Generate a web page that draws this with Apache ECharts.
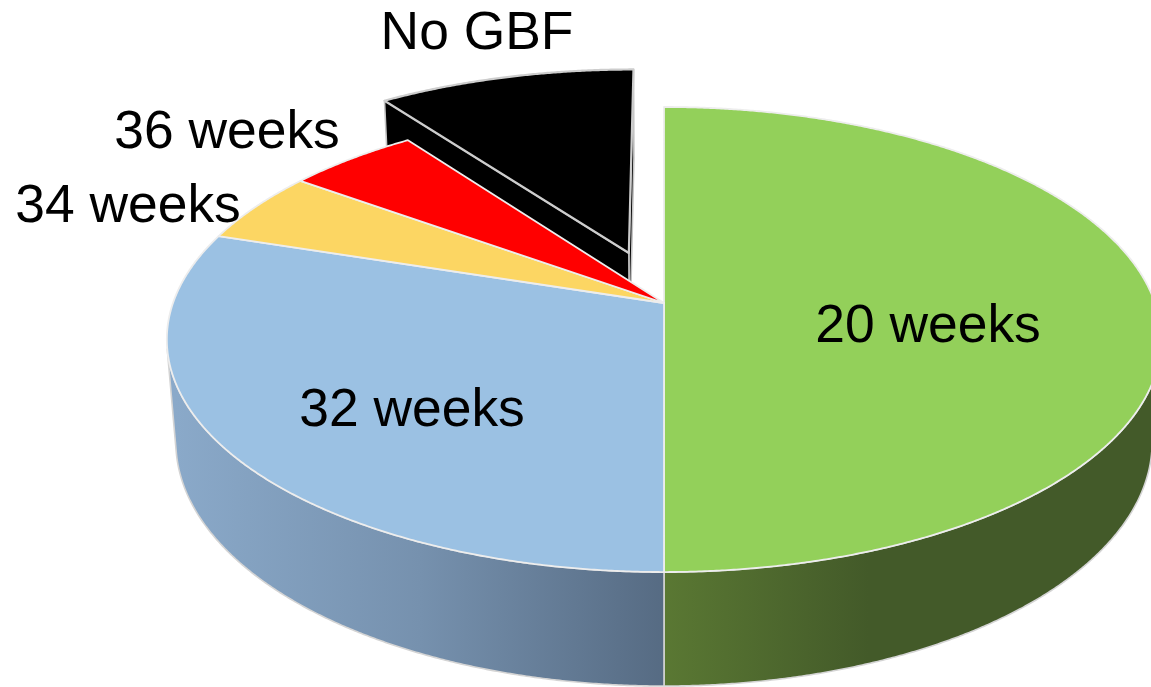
<!DOCTYPE html>
<html>
<head>
<meta charset="utf-8">
<title>GBF timing</title>
<style>
  html, body { margin: 0; padding: 0; background: #ffffff; }
  #chart { width: 1151px; height: 687px; }
</style>
<script src="https://cdn.jsdelivr.net/npm/echarts@6/dist/echarts.min.js"></script>
</head>
<body>
<div id="chart"></div>
<script>
// Slice data, clockwise from twelve o'clock
const categories = ['20 weeks', '32 weeks', '34 weeks', '36 weeks', 'No GBF'];
const shares = [50, 30, 5, 5, 10];
const exploded = [0, 0, 0, 0, 0.24];

// Slice styling
const topColors = ['#93d05a', '#9bc1e3', '#fcd663', '#ff0000', '#000000'];
const wallStops = [
  [[0, '#5a7833'], [0.42, '#435a29'], [1, '#435a29']],
  [[0, '#8aa9c9'], [0.5, '#7691ae'], [1, '#566b83']],
  [[0, '#c9a94e'], [1, '#c9a94e']],
  [[0, '#a00000'], [1, '#a00000']],
  [[0, '#000000'], [1, '#000000']]
];
const wallSpans = [[664, 1151], [176, 664], [0, 1151], [0, 1151], [0, 1151]];
const labelCenters = [[928, 327], [412, 411], [128, 207], [227, 133], [477, 34]];

// Perspective camera for the disc: unit-circle plane to screen
const view = { cx: 664, cy: 303, r: 491, h: 226.8, k: 0.157, depthW: 0.018, depthY: 103 };
const TAU = Math.PI * 2;

function project(u, v, d) {
  const w = 1 + view.k * v + view.depthW * d;
  return [view.cx + view.r * u / w, view.cy - (view.h * v - view.depthY * d) / w];
}

function rimPoint(a, d, ox, oy) {
  return project(Math.sin(a) + ox, Math.cos(a) + oy, d);
}

// Find the angle on each flank where the cylinder wall turns away from the viewer
function wallFacing(a) {
  const p = rimPoint(a, 0, 0, 0);
  const q = rimPoint(a, 1, 0, 0);
  const n = rimPoint(a + 0.001, 0, 0, 0);
  return (q[0] - p[0]) * (n[1] - p[1]) - (q[1] - p[1]) * (n[0] - p[0]);
}
function bisectEdge(lo, hi) {
  const s = wallFacing(lo);
  for (let i = 0; i < 50; i++) {
    const mid = (lo + hi) / 2;
    if (wallFacing(mid) * s > 0) lo = mid; else hi = mid;
  }
  return (lo + hi) / 2;
}
const visibleFrom = bisectEdge(TAU * 0.125, TAU * 0.375);
const visibleTo = bisectEdge(TAU * 0.625, TAU * 0.875);

function arc(a0, a1, d, ox, oy) {
  const n = Math.max(2, Math.ceil(Math.abs(a1 - a0) / 0.005));
  const pts = [];
  for (let i = 0; i <= n; i++) pts.push(rimPoint(a0 + (a1 - a0) * i / n, d, ox, oy));
  return pts;
}

function sliceGraphics(params, api) {
  const i = params.dataIndex;
  const total = shares.reduce((s, x) => s + x, 0);
  const before = shares.slice(0, i).reduce((s, x) => s + x, 0);
  const a0 = before / total * TAU;
  const a1 = (before + api.value(0)) / total * TAU;
  const mid = (a0 + a1) / 2;
  const pulled = exploded[i] > 0;
  const ox = exploded[i] * Math.sin(mid);
  const oy = exploded[i] * Math.cos(mid);
  const base = pulled ? 0 : 10;
  const children = [];
  const wallFill = new echarts.graphic.LinearGradient(
    wallSpans[i][0], 0, wallSpans[i][1], 0,
    wallStops[i].map(s => ({ offset: s[0], color: s[1] })), true);

  // Outer wall, only the part that faces the viewer
  const from = Math.max(a0, visibleFrom);
  const to = Math.min(a1, visibleTo);
  if (to > from) {
    children.push({
      type: 'polygon', z2: base + 1,
      shape: { points: arc(from, to, 0, ox, oy).concat(arc(to, from, 1, ox, oy)) },
      style: { fill: wallFill, stroke: '#d4d4d4', lineWidth: 1.6, lineJoin: 'round' }
    });
  }

  // Cut faces of a pulled-out slice
  if (pulled) {
    [a1, a0].forEach((a, n) => {
      children.push({
        type: 'polygon', z2: base + n,
        shape: { points: [
          project(ox, oy, 0), rimPoint(a, 0, ox, oy),
          rimPoint(a, 1, ox, oy), project(ox, oy, 1)
        ] },
        style: { fill: wallFill, stroke: '#c4c4c4', lineWidth: 1.6, lineJoin: 'round' }
      });
    });
  }

  // Top face
  children.push({
    type: 'polygon', z2: base + 3,
    shape: { points: [project(ox, oy, 0)].concat(arc(a0, a1, 0, ox, oy)) },
    style: {
      fill: topColors[i],
      stroke: pulled ? '#cdcdcd' : '#ededed',
      lineWidth: pulled ? 2.2 : 1.8,
      lineJoin: 'round'
    }
  });

  // Category label
  children.push({
    type: 'text', z2: 30,
    x: labelCenters[i][0], y: labelCenters[i][1],
    style: {
      text: categories[i],
      fill: '#000000',
      font: '53.4px "Liberation Sans", Arial, sans-serif',
      align: 'center',
      verticalAlign: 'middle'
    }
  });

  return { type: 'group', children };
}

const chart = echarts.init(document.getElementById('chart'), null, { renderer: 'canvas' });
chart.setOption({
  animation: false,
  backgroundColor: '#ffffff',
  tooltip: { show: false },
  series: [{
    type: 'custom',
    coordinateSystem: 'none',
    silent: true,
    clip: false,
    renderItem: sliceGraphics,
    data: categories.map((name, i) => ({ name, value: shares[i] }))
  }]
});
</script>
</body>
</html>
